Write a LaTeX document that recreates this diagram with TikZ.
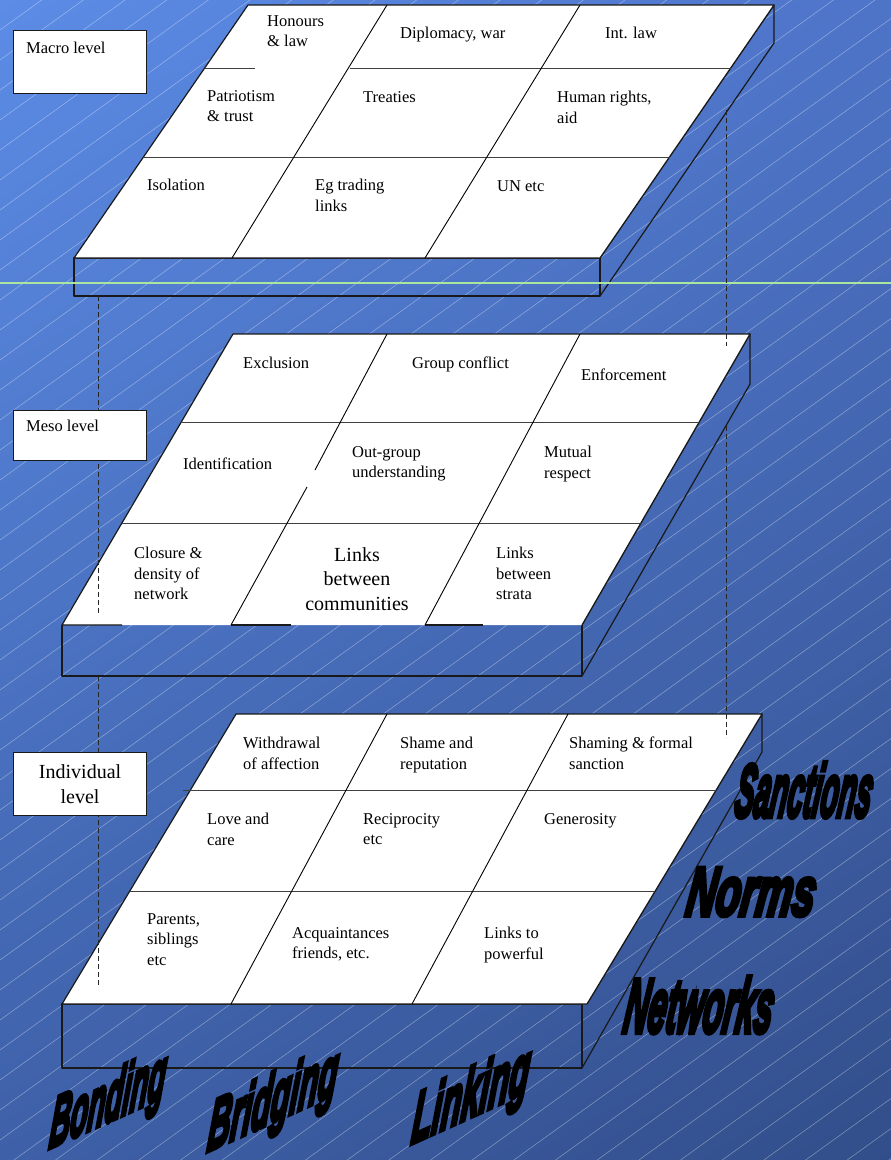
\documentclass[tikz,border=0pt]{standalone}
\usepackage{fontspec}
\setmainfont{Liberation Serif}
\newfontfamily\artfont[FakeBold=7]{Liberation Sans}
\usetikzlibrary{calc, shadings}

\definecolor{bgul}{RGB}{92,140,230}
\definecolor{bgur}{RGB}{78,116,200}
\definecolor{bgll}{RGB}{62,96,168}
\definecolor{bglr}{RGB}{50,78,138}
\definecolor{paleGreen}{RGB}{170,230,160}

\begin{document}
\begin{tikzpicture}[x=1pt, y=-1pt,
  face/.style={fill=white},
  side/.style={draw=black!90, line width=1.2pt, line join=round},
  grid/.style={draw=black!75, line width=0.9pt},
  divider/.style={draw=black, line width=0.9pt},
  hatch/.style={draw=white, opacity=0.4, line width=0.5pt},
  guide/.style={draw=black!85, line width=0.9pt, dash pattern=on 5pt off 3pt},
  levelbox/.style={draw=black!90, line width=1.2pt, fill=white, inner sep=0pt, anchor=north west, minimum width=133pt},
  cell/.style={anchor=north west, inner sep=0pt, align=left, font=\fontsize{16.5}{20.5}\selectfont},
  bigcell/.style={anchor=north, inner sep=0pt, align=center, font=\fontsize{20}{24.5}\selectfont},
  wordart/.style={inner sep=0pt, font=\artfont\bfseries\itshape\fontsize{30}{30}\selectfont}
]
\useasboundingbox (0,0) rectangle (891,1160);
\shade[upper left=bgul, upper right=bgur, lower left=bgll, lower right=bglr] (0,0) rectangle (891,1160);
\begin{scope}
  \clip (0,0) rectangle (891,1160);
  \foreach \c in {0,30,...,1860}
    \draw[hatch] (0,\c) -- (891,\c-641.5);
\end{scope}

% macro level
\coordinate (mac-tl) at (248,5);
\coordinate (mac-tr) at (774,5);
\coordinate (mac-br) at (600,258);
\coordinate (mac-bl) at (74,258);
\draw[side] (mac-bl) rectangle (600,296);
\draw[side] (mac-br) -- (mac-tr) -- (774,43) -- (600,296);
\fill[face] (mac-tl) -- (mac-tr) -- (mac-br) -- (mac-bl) -- cycle;
\draw[side] (mac-tl) -- (mac-tr) -- (mac-br) -- (mac-bl) -- cycle;
\draw[grid] (204.7,68) -- (255,68) (350,68) -- (730.7,68);
\draw[grid] (143.5,157) -- (669.5,157);
\draw[divider] (387,5) -- (232,258);
\draw[divider] (580,5) -- (425,258);
\node[cell] (honours) at (267,15) {Honours\\\& law};
\node[cell] (diplomacy) at (400,27) {Diplomacy, war};
\node[cell] (intlaw) at (605,27) {Int. law};
\node[cell] (patriotism) at (207,90) {Patriotism\\\& trust};
\node[cell] (treaties) at (363,91) {Treaties};
\node[cell] (humanrights) at (557,91) {Human rights,\\aid};
\node[cell] (isolation) at (147,179) {Isolation};
\node[cell] (trading) at (315,179) {Eg trading\\links};
\node[cell] (unetc) at (497,180) {UN etc};

% meso level
\coordinate (mes-tl) at (233,334);
\coordinate (mes-tr) at (750,334);
\coordinate (mes-br) at (582,625);
\coordinate (mes-bl) at (62,625);
\draw[side] (mes-bl) -- (62,676) -- (582,676) -- (mes-br);
\draw[side] (mes-br) -- (mes-tr) -- (750,384) -- (582,676);
\fill[face] (mes-tl) -- (mes-tr) -- (mes-br) -- (mes-bl) -- cycle;
\draw[side] (mes-br) -- (mes-tr) -- (mes-tl) -- (mes-bl) -- (122,625);
\draw[side] (231,625) -- (291,625) (425,625) -- (483,625);
\draw[grid] (181.3,422) -- (699.2,422);
\draw[grid] (122,523) -- (641,523);
\draw[divider] (387,334) -- (315,470) (307,487) -- (231,625);
\draw[divider] (580,334) -- (425,625);
\node[cell] (exclusion) at (243,357) {Exclusion};
\node[cell] (groupconflict) at (412,357) {Group conflict};
\node[cell] (enforcement) at (581,369) {Enforcement};
\node[cell] (identification) at (183,458) {Identification};
\node[cell] (outgroup) at (352,446) {Out-group\\understanding};
\node[cell] (mutual) at (544,446) {Mutual\\respect};
\node[cell] (closure) at (134,547) {Closure \&\\density of\\network};
\node[bigcell] (communities) at (357,547) {Links\\between\\communities};
\node[cell] (strata) at (496,547) {Links\\between\\strata};

% individual level
\coordinate (ind-tl) at (236,714);
\coordinate (ind-tr) at (762,714);
\coordinate (ind-br) at (587,1004);
\coordinate (ind-bl) at (62,1004);
\draw[side] (ind-bl) rectangle (582,1068);
\draw[side] (ind-br) -- (ind-tr) -- (762,752) -- (582,1068);
\fill[face] (ind-tl) -- (ind-tr) -- (ind-br) -- (ind-bl) -- cycle;
\draw[side] (ind-tl) -- (ind-tr) -- (ind-br) -- (ind-bl) -- cycle;
\draw[grid] (183,790) -- (716.1,790);
\draw[grid] (130,891) -- (655,891);
\draw[divider] (387,714) -- (231,1004);
\draw[divider] (568,714) -- (412,1004);
\node[cell] (withdrawal) at (243,737) {Withdrawal\\of affection};
\node[cell] (shame) at (400,737) {Shame and\\reputation};
\node[cell] (shaming) at (569,737) {Shaming \& formal\\sanction};
\node[cell] (love) at (207,813) {Love and\\care};
\node[cell] (reciprocity) at (363,813) {Reciprocity\\etc};
\node[cell] (generosity) at (544,813) {Generosity};
\node[cell] (parents) at (147,913) {Parents,\\siblings\\etc};
\node[cell] (acquaint) at (292,927) {Acquaintances\\friends, etc.};
\node[cell] (powerful) at (484,927) {Links to\\powerful};

\draw[draw=paleGreen, line width=2pt] (0,283) -- (891,283);

% dashed guides
\coordinate (lg-a) at (98,296);
\coordinate (lg-b) at (98,613);
\coordinate (lg-c) at (98,676);
\coordinate (lg-d) at (98,988);
\coordinate (rg-a) at (726,110);
\coordinate (rg-b) at (726,346);
\coordinate (rg-c) at (726,426);
\coordinate (rg-d) at (726,738);
\draw[guide] (lg-a) -- (lg-b);
\draw[guide] (lg-c) -- (lg-d);
\draw[guide] (rg-a) -- (rg-b);
\draw[guide] (rg-c) -- (rg-d);

\node[levelbox, minimum height=63pt] (macrobox) at (13,30) {};
\node[cell] (macrolabel) at (26,42) {Macro level};
\node[levelbox, minimum height=50pt] (mesobox) at (13,410) {};
\node[cell] (mesolabel) at (26,420) {Meso level};
\node[levelbox, minimum height=63pt, align=center, font=\fontsize{20}{25}\selectfont] (indivbox) at (13,752) {Individual\\level};

\node[wordart, xslant=0.15, xscale=0.95, yscale=2.5] (sanctions) at (805,790) {Sanctions};
\node[wordart, xslant=0.15, xscale=1.35, yscale=2.3] (norms) at (752,892) {Norms};
\node[wordart, xslant=0.15, xscale=1.1, yscale=2.55] (networks) at (700,1005) {Networks};
\node[wordart, yslant=0.45, xslant=0.12, xscale=0.95, yscale=2.3] (bonding) at (108,1104) {Bonding};
\node[wordart, yslant=0.45, xslant=0.12, xscale=1.05, yscale=2.3] (bridging) at (273,1104) {Bridging};
\node[wordart, yslant=0.45, xslant=0.12, xscale=1.1, yscale=2.3] (linking) at (471,1099) {Linking};
\end{tikzpicture}
\end{document}
